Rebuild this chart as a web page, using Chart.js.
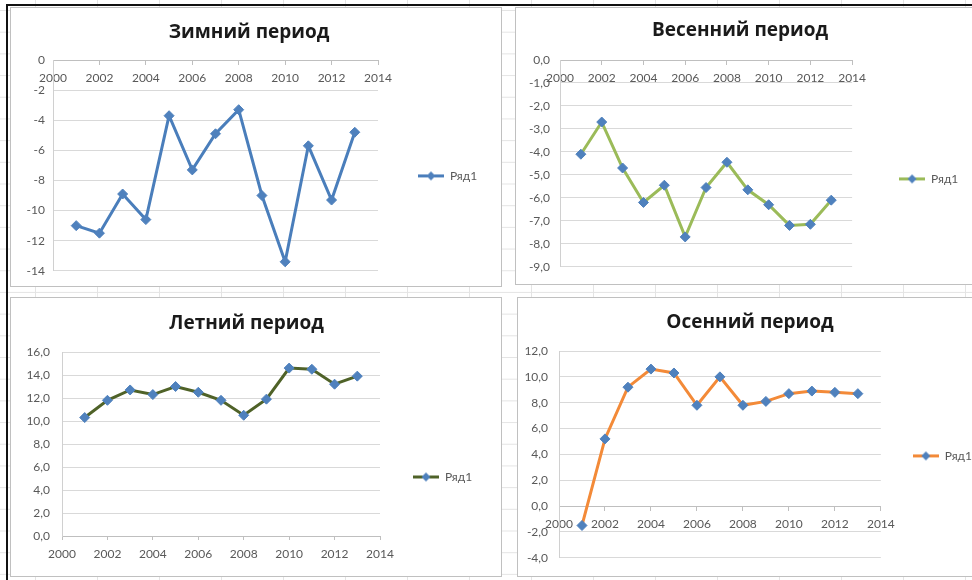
<!DOCTYPE html>
<html lang="ru">
<head>
<meta charset="utf-8">
<title>Сезонные периоды</title>
<script src="https://cdn.jsdelivr.net/npm/chart.js@4.4.1/dist/chart.umd.min.js"></script>
<style>
  html, body { margin: 0; padding: 0; background: #fff; }
  #sheet {
    position: relative; width: 972px; height: 580px; overflow: hidden; background: #fff;
    background-image: linear-gradient(#e4e4e4 1px, transparent 1px), linear-gradient(90deg, #e4e4e4 1px, transparent 1px);
    background-size: 62px 21.7px; background-position: 35px 10px;
  }
  .frame-top { position: absolute; left: 6px; top: 4px; width: 966px; height: 2px; background: #111; }
  .frame-left { position: absolute; left: 6px; top: 4px; width: 2px; height: 576px; background: #111; }
  .panel { position: absolute; box-sizing: border-box; border: 1px solid #c0c0c0; background: #fff; }
  .panel canvas { display: block; }
</style>
</head>
<body>
<div id="sheet">
  <div class="frame-top"></div>
  <div class="frame-left"></div>
</div>
<script>
/* ---------- Data ---------- */
const years = [2001, 2002, 2003, 2004, 2005, 2006, 2007, 2008, 2009, 2010, 2011, 2012, 2013];
const yearTicks = [2000, 2002, 2004, 2006, 2008, 2010, 2012, 2014];

const winterValues = [-11.0, -11.5, -8.9, -10.6, -3.7, -7.3, -4.9, -3.3, -9.0, -13.4, -5.7, -9.3, -4.8];
const springValues = [-4.1, -2.7, -4.7, -6.2, -5.45, -7.7, -5.55, -4.45, -5.65, -6.3, -7.2, -7.15, -6.1];
const summerValues = [10.3, 11.8, 12.7, 12.3, 13.0, 12.5, 11.8, 10.5, 11.9, 14.6, 14.5, 13.2, 13.9];
const autumnValues = [-1.5, 5.2, 9.2, 10.6, 10.3, 7.8, 10.0, 7.8, 8.1, 8.7, 8.9, 8.8, 8.7];

const winterTicks = [0, -2, -4, -6, -8, -10, -12, -14];
const springTicks = [0, -1, -2, -3, -4, -5, -6, -7, -8, -9];
const summerTicks = [0, 2, 4, 6, 8, 10, 12, 14, 16];
const autumnTicks = [-4, -2, 0, 2, 4, 6, 8, 10, 12];

const seriesName = 'Ряд1';

(function () {
  'use strict';

  const labelFont = "Lato, 'Open Sans', sans-serif";
  const titleFont = "'Open Sans', 'Noto Sans', sans-serif";
  const markerColor = '#4F81BD';
  const sheet = document.getElementById('sheet');

  /* panel box = [left, top, width, height]; plot = [left, top, right, bottom] inside canvas */
  const panels = [
    { title: 'Зимний период', values: winterValues, ticks: winterTicks, decimals: 0, xAt: 0, line: '#4A7EBB',
      box: [10, 7, 492, 280], plot: [42, 52, 367, 263], titleY: 25, legendX: 407, legendY: 168, yPad: 8 },
    { title: 'Весенний период', values: springValues, ticks: springTicks, decimals: 1, xAt: 0, line: '#9BBB59',
      box: [515, 7, 466, 278], plot: [44, 52, 332, 263], titleY: 23, legendX: 379, legendY: 173, yPad: 10 },
    { title: 'Летний период', values: summerValues, ticks: summerTicks, decimals: 1, xAt: null, line: '#4F6228',
      box: [10, 297, 492, 280], plot: [51, 54, 369, 238], titleY: 26, legendX: 402, legendY: 179, yPad: 12 },
    { title: 'Осенний период', values: autumnValues, ticks: autumnTicks, decimals: 1, xAt: 0, line: '#F38A38',
      box: [517, 297, 466, 280], plot: [41, 53, 365, 264], titleY: 25, legendX: 397, legendY: 160, yPad: 11 },
  ];

  /* ---------- Legend marker: line with a diamond ---------- */
  function legendIcon(color) {
    const c = document.createElement('canvas');
    c.width = 26; c.height = 11;
    const g = c.getContext('2d');
    g.strokeStyle = color; g.lineWidth = 3;
    g.beginPath(); g.moveTo(0, 5.5); g.lineTo(26, 5.5); g.stroke();
    g.fillStyle = markerColor;
    g.beginPath(); g.moveTo(13, 1); g.lineTo(17.5, 5.5); g.lineTo(13, 10); g.lineTo(8.5, 5.5); g.closePath(); g.fill();
    return c;
  }

  const measure = document.createElement('canvas').getContext('2d');
  measure.font = '12px ' + labelFont;
  const legendTextW = measure.measureText(seriesName).width;

  function fmt(v, decimals) {
    return decimals ? v.toFixed(decimals).replace('.', ',') : String(v);
  }

  /* ---------- One chart per panel ---------- */
  function makeChart(p) {
    const div = document.createElement('div');
    div.className = 'panel';
    div.style.left = p.box[0] + 'px';
    div.style.top = p.box[1] + 'px';
    div.style.width = p.box[2] + 'px';
    div.style.height = p.box[3] + 'px';
    const canvas = document.createElement('canvas');
    const W = p.box[2] - 2, H = p.box[3] - 2;
    canvas.width = W; canvas.height = H;
    div.appendChild(canvas);
    sheet.appendChild(div);

    const [pl, pt, pr, pb] = p.plot;
    const legendPad = p.legendX - pr;
    const spacer = Math.max(0, 2 * p.legendY - pt - pb);
    const legendW = legendPad + 26 + 6 + legendTextW + 10;
    const padRight = Math.max(0, W - pr - legendW);
    const bottomAxis = p.xAt === null;
    const titleLine = 19 * 1.2;

    new Chart(canvas, {
      type: 'line',
      data: {
        datasets: [{
          label: seriesName,
          data: years.map((x, i) => ({ x, y: p.values[i] })),
          borderColor: p.line,
          borderWidth: 3,
          pointStyle: 'rectRot',
          pointRadius: 5,
          pointBackgroundColor: markerColor,
          pointBorderColor: markerColor,
          pointBorderWidth: 1,
          tension: 0,
        }],
      },
      options: {
        responsive: false,
        animation: false,
        layout: { padding: { left: 0, top: 0, right: padRight, bottom: bottomAxis ? 0 : H - pb } },
        plugins: {
          title: {
            display: true,
            text: p.title,
            color: '#1a1a1a',
            font: { family: titleFont, size: 19, weight: 'bold', lineHeight: 1.2 },
            padding: { top: p.titleY - titleLine / 2, bottom: pt - p.titleY - titleLine / 2 },
          },
          legend: {
            position: 'right',
            fullSize: false,
            title: { display: spacer > 1, text: ' ', font: { size: 1, lineHeight: 1 }, padding: { top: Math.max(0, spacer - 1), bottom: 0 } },
            labels: {
              usePointStyle: true,
              pointStyle: legendIcon(p.line),
              pointStyleWidth: 26,
              padding: legendPad,
              color: '#595959',
              font: { family: labelFont, size: 12 },
            },
          },
          tooltip: { enabled: false },
        },
        scales: {
          x: {
            type: 'linear',
            position: bottomAxis ? 'bottom' : { y: p.xAt },
            min: yearTicks[0],
            max: yearTicks[yearTicks.length - 1],
            afterBuildTicks: (s) => { s.ticks = yearTicks.map((v) => ({ value: v })); },
            afterFit: (s) => { if (bottomAxis) s.height = H - pb; },
            grid: { drawOnChartArea: false, drawTicks: true, tickLength: 4, color: '#bfbfbf' },
            border: { display: true, color: '#bfbfbf', width: 1 },
            ticks: {
              autoSkip: false, maxRotation: 0, padding: 7, color: '#595959',
              font: { family: labelFont, size: 12 },
              callback: (v) => String(v),
            },
          },
          y: {
            min: Math.min(...p.ticks),
            max: Math.max(...p.ticks),
            afterBuildTicks: (s) => { s.ticks = p.ticks.slice().sort((a, b) => a - b).map((v) => ({ value: v })); },
            afterFit: (s) => { s.width = pl; },
            grid: { color: '#d9d9d9', lineWidth: 1, drawTicks: false },
            border: { display: true, color: '#d0d0d0', width: 1 },
            ticks: {
              autoSkip: false, padding: p.yPad, color: '#595959',
              font: { family: labelFont, size: 12 },
              callback: (v) => fmt(v, p.decimals),
            },
          },
        },
      },
    });
  }

  panels.forEach(makeChart);
})();
</script>
</body>
</html>
